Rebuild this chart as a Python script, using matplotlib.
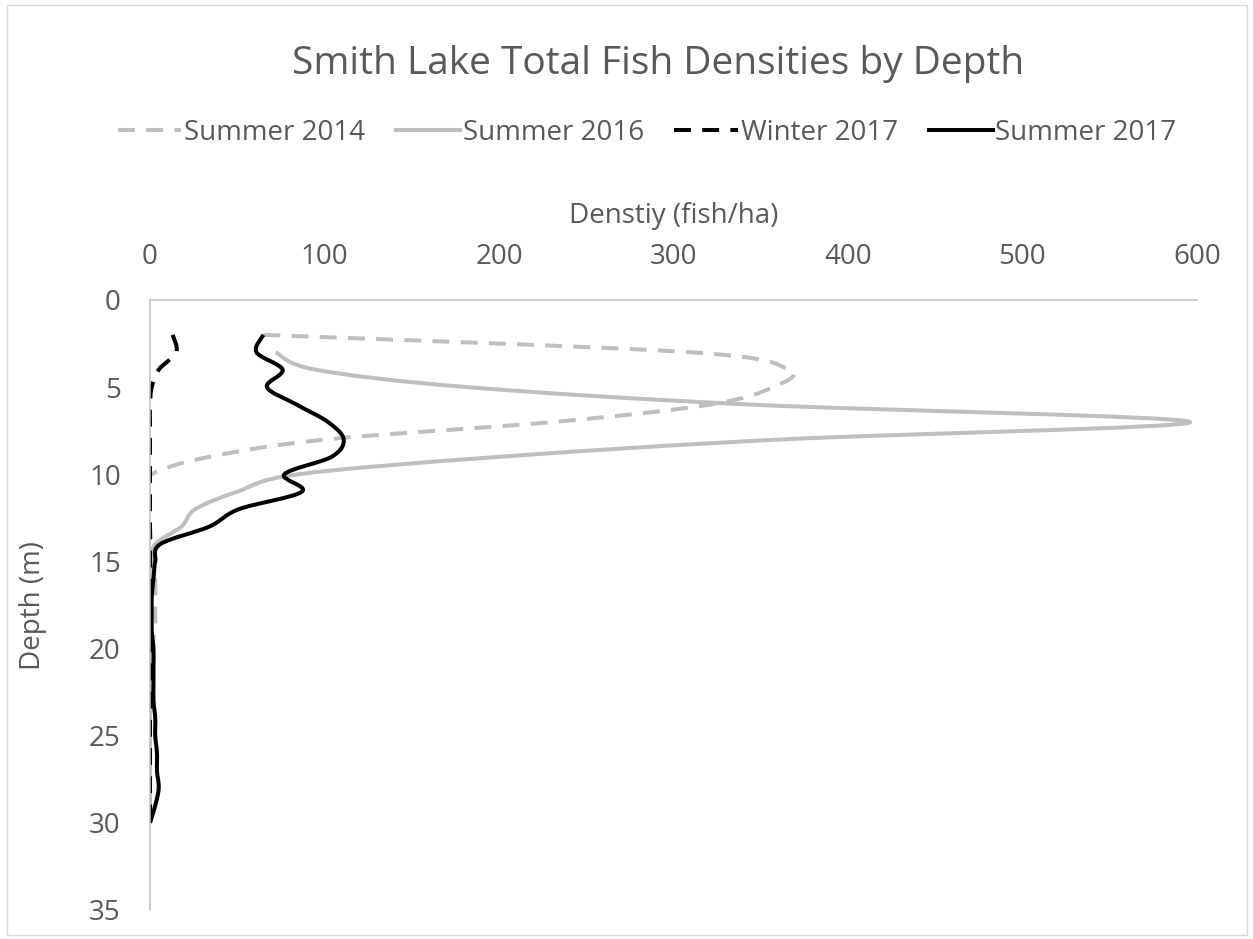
import matplotlib
matplotlib.use("Agg")
import matplotlib.pyplot as plt
from matplotlib.path import Path
from matplotlib.patches import PathPatch, Rectangle
from matplotlib.lines import Line2D
import numpy as np

plt.rcParams['font.family'] = ['Open Sans', 'DejaVu Sans']

# depth (m) and density (fish/ha)
depth_2014 = list(range(2, 31))
summer_2014 = [65, 310, 366, 357, 321, 231, 101, 34, 1, 0, 0, 0, 1, 2, 3,
               3, 3, 3, 0, 0, 0, 0, 0, 0, 0, 0, 0, 0, 0]

depth_2016 = list(range(3, 31))
summer_2016 = [72, 95, 182, 344, 596, 362, 200, 85, 50, 26, 18, 3, 1, 0,
               0, 0, 0, 0, 0, 0, 0, 0, 0, 0, 0, 0, 0, 0]

depth_w2017 = list(range(2, 31))
winter_2017 = [13, 15, 5, 1, 0, 0, 0, 0, 0, 0, 0, 0, 0, 0, 0,
               0, 0, 0, 0, 0, 0, 0, 0, 0, 0, 0, 0, 0, 0]

depth_s2017 = list(range(2, 31))
summer_2017 = [65, 61, 76, 67, 84, 102, 111, 104, 77, 87, 51, 34, 6, 3, 2,
               1, 1, 1, 2, 2, 2, 2, 3, 3, 4, 4, 5, 3, 0]

labels = ["Summer 2014", "Summer 2016", "Winter 2017", "Summer 2017"]
colors = ["#BFBFBF", "#BFBFBF", "#000000", "#000000"]
dashed = [True, False, True, False]

GREY_TXT = "#595959"
AXIS_C = "#BFBFBF"


def smooth_path(x, y):
    # Excel-like smoothed line: Catmull-Rom converted to cubic Bezier
    pts = np.column_stack([x, y]).astype(float)
    n = len(pts)
    verts = [pts[0]]
    codes = [Path.MOVETO]
    for i in range(n - 1):
        p0 = pts[i - 1] if i > 0 else pts[i]
        p1 = pts[i]
        p2 = pts[i + 1]
        p3 = pts[i + 2] if i + 2 < n else pts[i + 1]
        c1 = p1 + (p2 - p0) / 6.0
        c2 = p2 - (p3 - p1) / 6.0
        verts += [c1, c2, p2]
        codes += [Path.CURVE4] * 3
    return Path(verts, codes)


W, H = 1253, 939
fig = plt.figure(figsize=(W / 100, H / 100), dpi=100)

# chart area border
fig.patches.append(Rectangle((7 / W, 4 / H), (1247 - 7) / W, (934 - 4) / H,
                             transform=fig.transFigure, fill=False,
                             edgecolor="#D9D9D9", linewidth=1.0))

ax = fig.add_axes([150 / W, 1 - 910 / H, (1197 - 150) / W, (910 - 300) / H])

series = [(depth_2014, summer_2014), (depth_2016, summer_2016),
          (depth_w2017, winter_2017), (depth_s2017, summer_2017)]

LW = 2.9
handles = []
for (d, v), lab, col, ds in zip(series, labels, colors, dashed):
    ls = (0, (4.2, 2.8)) if ds else "solid"
    patch = PathPatch(smooth_path(v, d), fill=False, edgecolor=col,
                      linewidth=LW, linestyle=ls, capstyle="butt",
                      joinstyle="round")
    ax.add_patch(patch)
    handles.append(Line2D([], [], color=col, linewidth=LW, linestyle=ls))

ax.set_xlim(0, 600)
ax.set_ylim(35, 0)
ax.set_xticks(range(0, 601, 100))
ax.set_yticks(range(0, 36, 5))
ax.xaxis.tick_top()
ax.tick_params(length=0, labelsize=20, labelcolor=GREY_TXT, pad=21)

for s in ["right", "bottom"]:
    ax.spines[s].set_visible(False)
for s in ["left", "top"]:
    ax.spines[s].set_color(AXIS_C)
    ax.spines[s].set_linewidth(1.1)

fig.text(673.5 / W, 1 - 216 / H, "Denstiy (fish/ha)", ha="center",
         va="center", fontsize=20, color=GREY_TXT)
fig.text(33 / W, 1 - 605 / H, "Depth (m)", ha="center", va="center",
         rotation=90, fontsize=20, color=GREY_TXT)
fig.text(658 / W, 1 - 74 / H, "Smith Lake Total Fish Densities by Depth",
         ha="center", va="baseline", fontsize=28, color=GREY_TXT)

fig.legend(handles, labels, loc="center", bbox_to_anchor=(647 / W, 1 - 133 / H),
           ncol=4, frameon=False, fontsize=20, labelcolor=GREY_TXT,
           handlelength=2.3, handletextpad=0.1, columnspacing=1.1)

fig.savefig("out.png", dpi=100)
